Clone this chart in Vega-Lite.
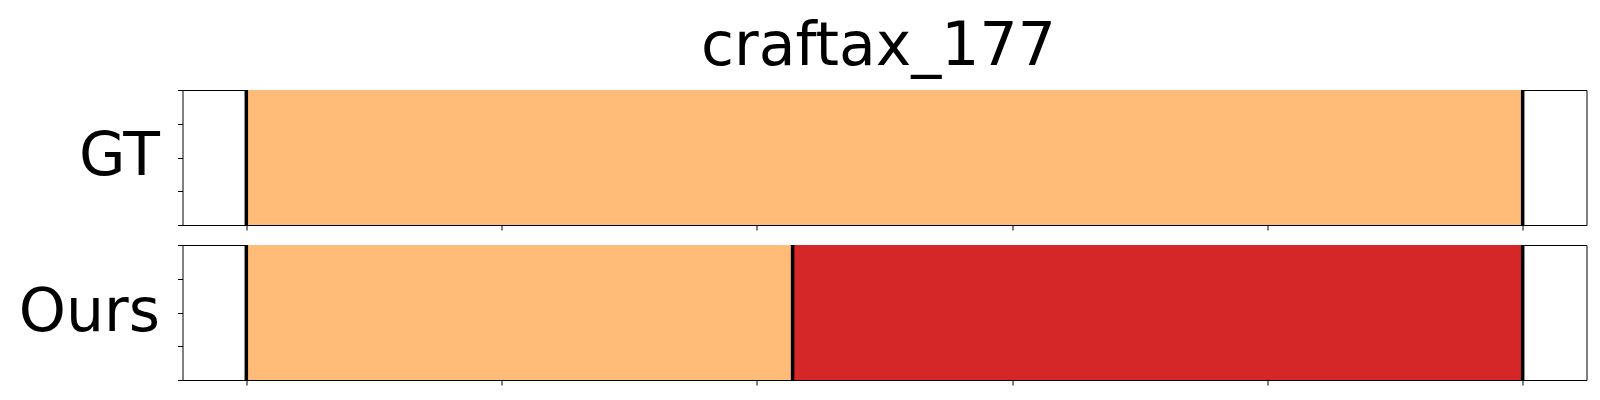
{
  "$schema": "https://vega.github.io/schema/vega-lite/v6.json",
  "padding": {"left": 17.5, "top": 16, "right": 14, "bottom": 10},
  "background": "white",
  "title": {"text": "craftax_177", "fontSize": 60, "font": "DejaVu Sans", "fontWeight": "normal", "anchor": "middle", "baseline": "alphabetic", "offset": -37, "dx": 76, "color": "black"},
  "spacing": 20,
  "bounds": "flush",
  "config": {
    "view": {"stroke": "black", "strokeWidth": 1},
    "axis": {"domain": false, "grid": false, "labels": false, "ticks": true, "tickColor": "black", "tickSize": 5, "tickWidth": 1},
    "axisY": {"titleFont": "DejaVu Sans", "titleFontSize": 60, "titleFontWeight": "normal", "titleColor": "black", "titleAngle": 0, "titleAlign": "right", "titleBaseline": "alphabetic", "titleX": -23, "titleY": 85}
  },
  "vconcat": [
    {
      "width": 1404,
      "height": 135,
      "layer": [
        {
          "data": {"values": [{"start": 0, "end": 500, "action": "A"}]},
          "mark": {"type": "rect"},
          "encoding": {
            "x": {"field": "start", "type": "quantitative", "scale": {"domain": [-25, 525], "nice": false, "zero": false}, "axis": {"values": [0, 100, 200, 300, 400, 500], "title": null}},
            "x2": {"field": "end"},
            "y": {"datum": 0, "type": "quantitative", "scale": {"domain": [0, 1], "nice": false}, "axis": {"values": [0, 0.25, 0.5, 0.75, 1], "title": "GT", "titleY": 84}},
            "y2": {"datum": 1},
            "color": {"field": "action", "type": "nominal", "scale": {"domain": ["A", "B"], "range": ["#ffbb78", "#d62728"]}, "legend": null}
          }
        },
        {
          "data": {"values": [{"t": 0}, {"t": 500}]},
          "mark": {"type": "rule", "color": "black", "strokeWidth": 3.5},
          "encoding": {"x": {"field": "t", "type": "quantitative"}}
        }
      ]
    },
    {
      "width": 1404,
      "height": 135,
      "layer": [
        {
          "data": {"values": [{"start": 0, "end": 214, "action": "A"}, {"start": 214, "end": 500, "action": "B"}]},
          "mark": {"type": "rect"},
          "encoding": {
            "x": {"field": "start", "type": "quantitative", "scale": {"domain": [-25, 525], "nice": false, "zero": false}, "axis": {"values": [0, 100, 200, 300, 400, 500], "title": null}},
            "x2": {"field": "end"},
            "y": {"datum": 0, "type": "quantitative", "scale": {"domain": [0, 1], "nice": false}, "axis": {"values": [0, 0.25, 0.5, 0.75, 1], "title": "Ours", "titleY": 85}},
            "y2": {"datum": 1},
            "color": {"field": "action", "type": "nominal", "scale": {"domain": ["A", "B"], "range": ["#ffbb78", "#d62728"]}, "legend": null}
          }
        },
        {
          "data": {"values": [{"t": 0}, {"t": 214}, {"t": 500}]},
          "mark": {"type": "rule", "color": "black", "strokeWidth": 3.5},
          "encoding": {"x": {"field": "t", "type": "quantitative"}}
        }
      ]
    }
  ]
}
